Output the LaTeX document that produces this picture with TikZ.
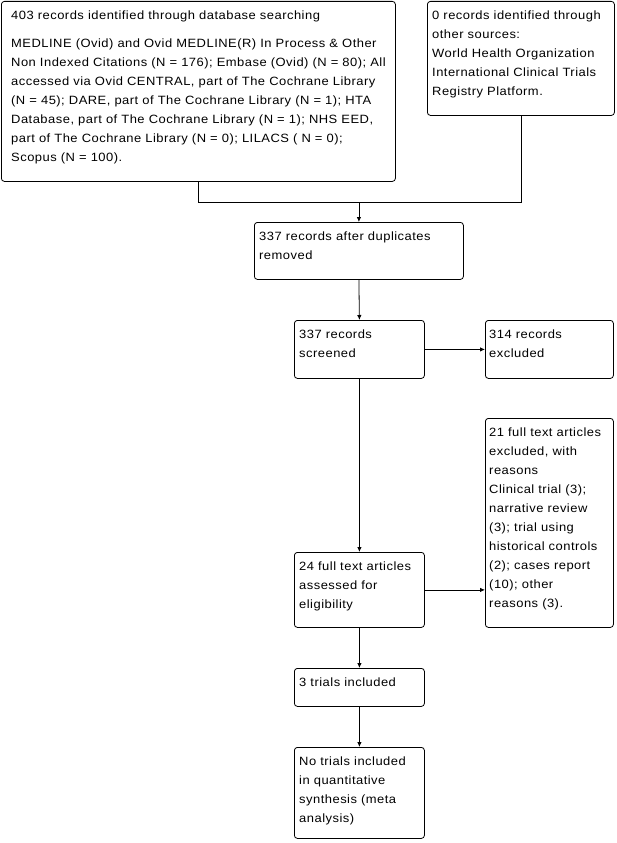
\documentclass[tikz,border=0pt]{standalone}
\usepackage{fontspec}
\setmainfont[FakeStretch=1.08,LetterSpace=4]{Liberation Sans}
\usetikzlibrary{arrows.meta}
\begin{document}
\begin{tikzpicture}[x=1pt,y=-1pt,
  box/.style={draw, line width=0.8pt, rounded corners=3pt, inner sep=0pt, anchor=north west},
  txt/.style={inner sep=0pt, anchor=north west, align=left, font=\fontsize{12}{19}\selectfont},
  conn/.style={line width=0.8pt},
  arr/.style={conn, -{Latex[length=5pt,width=4.5pt]}}]
\useasboundingbox (0,0) rectangle (616,843);
\fill[white] (0,0) rectangle (616,843);
\newcommand\tp{\rule{0pt}{9pt}}
% boxes
\node[box, minimum width=394pt, minimum height=180pt] (a) at (1,1) {};
\node[box, minimum width=187pt, minimum height=114pt] (b) at (427,1) {};
\node[box, minimum width=209pt, minimum height=57pt] (c) at (254,222) {};
\node[box, minimum width=130pt, minimum height=58pt] (d) at (294,320) {};
\node[box, minimum width=128pt, minimum height=58pt] (e) at (485,320) {};
\node[box, minimum width=128pt, minimum height=209pt] (f) at (485,418) {};
\node[box, minimum width=130pt, minimum height=75pt] (g) at (294,552) {};
\node[box, minimum width=130pt, minimum height=38pt] (h) at (294,668) {};
\node[box, minimum width=130pt, minimum height=91pt] (i) at (294,747) {};
% texts
\node[txt] (ta) at (11,10.5) {\tp 403 records identified through database searching\\[9pt]
\tp MEDLINE (Ovid) and Ovid MEDLINE(R) In Process \& Other\\
Non Indexed Citations (N = 176); Embase (Ovid) (N = 80); All\\
accessed via Ovid CENTRAL, part of The Cochrane Library\\
(N = 45); DARE, part of The Cochrane Library (N = 1); HTA\\
Database, part of The Cochrane Library (N = 1); NHS EED,\\
part of The Cochrane Library (N = 0); LILACS ( N = 0);\\
Scopus (N = 100).};
\node[txt] (tb) at (432,10.5) {\tp 0 records identified through\\other sources:\\World Health Organization\\International Clinical Trials\\Registry Platform.};
\node[txt] (tc) at (259,231.5) {\tp 337 records after duplicates\\removed};
\node[txt] (td) at (299,329.5) {\tp 337 records\\screened};
\node[txt] (te) at (489,329.5) {\tp 314 records\\excluded};
\node[txt] (tf) at (489,427.5) {\tp 21 full text articles\\excluded, with\\reasons\\Clinical trial (3);\\narrative review\\(3); trial using\\historical controls\\(2); cases report\\(10); other\\reasons (3).};
\node[txt] (tg) at (299,561.5) {\tp 24 full text articles\\assessed for\\eligibility};
\node[txt] (th) at (299,677.5) {\tp 3 trials included};
\node[txt] (ti) at (299,756.5) {\tp No trials included\\in quantitative\\synthesis (meta\\analysis)};
% connectors
\coordinate (j) at ([yshift=20pt]c.north);
\draw[conn] (a.south) -- (a.south |- j) -- (b.south |- j) -- (b.south);
\draw[arr] (j) -- (c.north);
\draw[arr] (c.south) -- (d.north);
\draw[arr] (d.east) -- (e.west);
\draw[arr] (d.south) -- (g.north);
\draw[arr] (g.east) -- (g.east -| f.west);
\draw[arr] (g.south) -- (h.north);
\draw[arr] (h.south) -- (i.north);
\end{tikzpicture}
\end{document}
